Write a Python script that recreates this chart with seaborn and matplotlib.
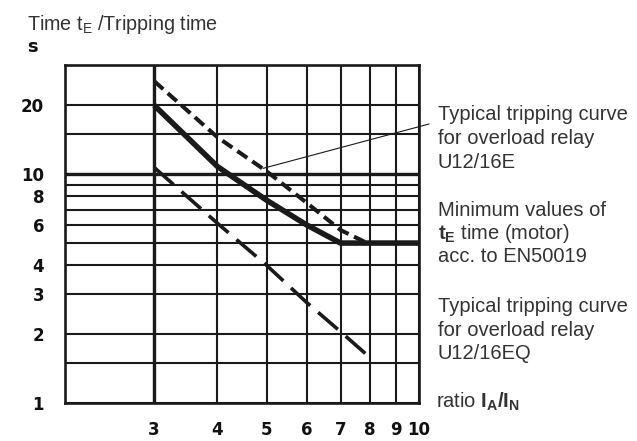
import matplotlib
matplotlib.use("Agg")
import matplotlib.pyplot as plt
import seaborn as sns
import pandas as pd
from matplotlib.ticker import NullFormatter

# readings from the chart: ratio I_A/I_N -> time in s
ratio_min = [3, 4, 5, 6, 7, 10]
time_min = [20, 10.8, 7.7, 6.0, 5.0, 5.0]          # minimum t_E acc. to EN50019
ratio_16e = [3, 4, 5, 6, 7, 7.9]
time_16e = [25.5, 14.5, 10.3, 7.5, 5.7, 5.0]       # U12/16E
ratio_16eq = [3, 4, 5, 6, 7, 8]
time_16eq = [10.7, 6.1, 4.0, 2.75, 2.05, 1.58]     # U12/16EQ

x_ticks = [3, 4, 5, 6, 7, 8, 9, 10]
y_ticks = [1, 2, 3, 4, 6, 8, 10, 20]
y_minor = [1.5, 5, 7, 9, 15, 30]

label_16e = ["Typical tripping curve", "for overload relay", "U12/16E"]
label_min = ["Minimum values of", r"$\mathbf{t_E}$ time (motor)", "acc. to EN50019"]
label_16eq = ["Typical tripping curve", "for overload relay", "U12/16EQ"]

sns.set_style("white")
plt.rcParams["font.family"] = ["Liberation Sans", "DejaVu Sans"]
plt.rcParams["mathtext.fontset"] = "custom"
plt.rcParams["mathtext.rm"] = "Liberation Sans"
plt.rcParams["mathtext.it"] = "Liberation Sans"
plt.rcParams["mathtext.bf"] = "Liberation Sans:bold"

W, H = 637, 441
fig = plt.figure(figsize=(W / 100, H / 100), dpi=100)
ax = fig.add_axes([65 / W, 1 - 403 / H, 354 / W, 338 / H])

ink = "#1a1a1a"

df_min = pd.DataFrame({"ratio": ratio_min, "time": time_min})
df_16e = pd.DataFrame({"ratio": ratio_16e, "time": time_16e})
df_16eq = pd.DataFrame({"ratio": ratio_16eq, "time": time_16eq})

sns.lineplot(data=df_min, x="ratio", y="time", ax=ax, color=ink, lw=4.0,
             solid_capstyle="butt", zorder=5)
sns.lineplot(data=df_16e, x="ratio", y="time", ax=ax, color=ink, lw=2.9,
             linestyle=(0, (3.0, 1.5)), zorder=5)
sns.lineplot(data=df_16eq, x="ratio", y="time", ax=ax, color=ink, lw=2.6,
             linestyle=(0, (7.2, 2.9)), zorder=5)

ax.set_xscale("log")
ax.set_yscale("log")
ax.set_xlim(2, 10)
ax.set_ylim(1, 30)

ax.set_xticks(x_ticks)
ax.set_xticklabels([str(v) for v in x_ticks])
ax.set_xticks([], minor=True)
ax.set_yticks(y_ticks)
ax.set_yticklabels([str(v) for v in y_ticks])
ax.set_yticks(y_minor, minor=True)
ax.xaxis.set_minor_formatter(NullFormatter())
ax.yaxis.set_minor_formatter(NullFormatter())

for lab in ax.get_xticklabels() + ax.get_yticklabels():
    lab.set_fontfamily("DejaVu Sans")
    lab.set_fontweight("bold")
    lab.set_fontsize(12)
    lab.set_color("#111111")
ax.tick_params(which="both", length=0)
ax.tick_params(axis="x", pad=13)
ax.tick_params(axis="y", pad=15)

ax.grid(which="both", color=ink, lw=1.5)
ax.axvline(3, color=ink, lw=2.4, zorder=1)
ax.axhline(10, color=ink, lw=2.4, zorder=1)
for sp in ax.spines.values():
    sp.set_color(ink)
    sp.set_linewidth(1.9)

ax.set_xlabel("")
ax.set_ylabel("")

# leader line to the U12/16E curve
ax.annotate("", xy=(4.92, 10.6), xycoords="data",
            xytext=(429 / W, 1 - 124 / H), textcoords="figure fraction",
            arrowprops=dict(arrowstyle="-", color=ink, lw=0.8,
                            shrinkA=0, shrinkB=0))

txt = "#333333"
fs = 14.5


def put(x, y, s, **kw):
    fig.text(x / W, 1 - y / H, s, va="baseline", ha="left", **kw)


for i, line in enumerate(label_16e):
    put(438, 120.5 + i * 23.8, line, fontsize=fs, color=txt)
for i, line in enumerate(label_min):
    put(438, 215.5 + i * 23.3, line, fontsize=fs, color=txt)
for i, line in enumerate(label_16eq):
    put(438, 312 + i * 23.5, line, fontsize=fs, color=txt)
put(436, 408, r"ratio $\mathbf{I_A/I_N}$", fontsize=fs, color=txt)

put(27, 30, r"Time t$_\mathrm{E}$ /Tripping time", fontsize=14.2, color=txt)
put(27, 52, "s", fontsize=13, color="#111111", fontweight="bold",
    family="DejaVu Sans")

fig.savefig("out.png", dpi=100)
